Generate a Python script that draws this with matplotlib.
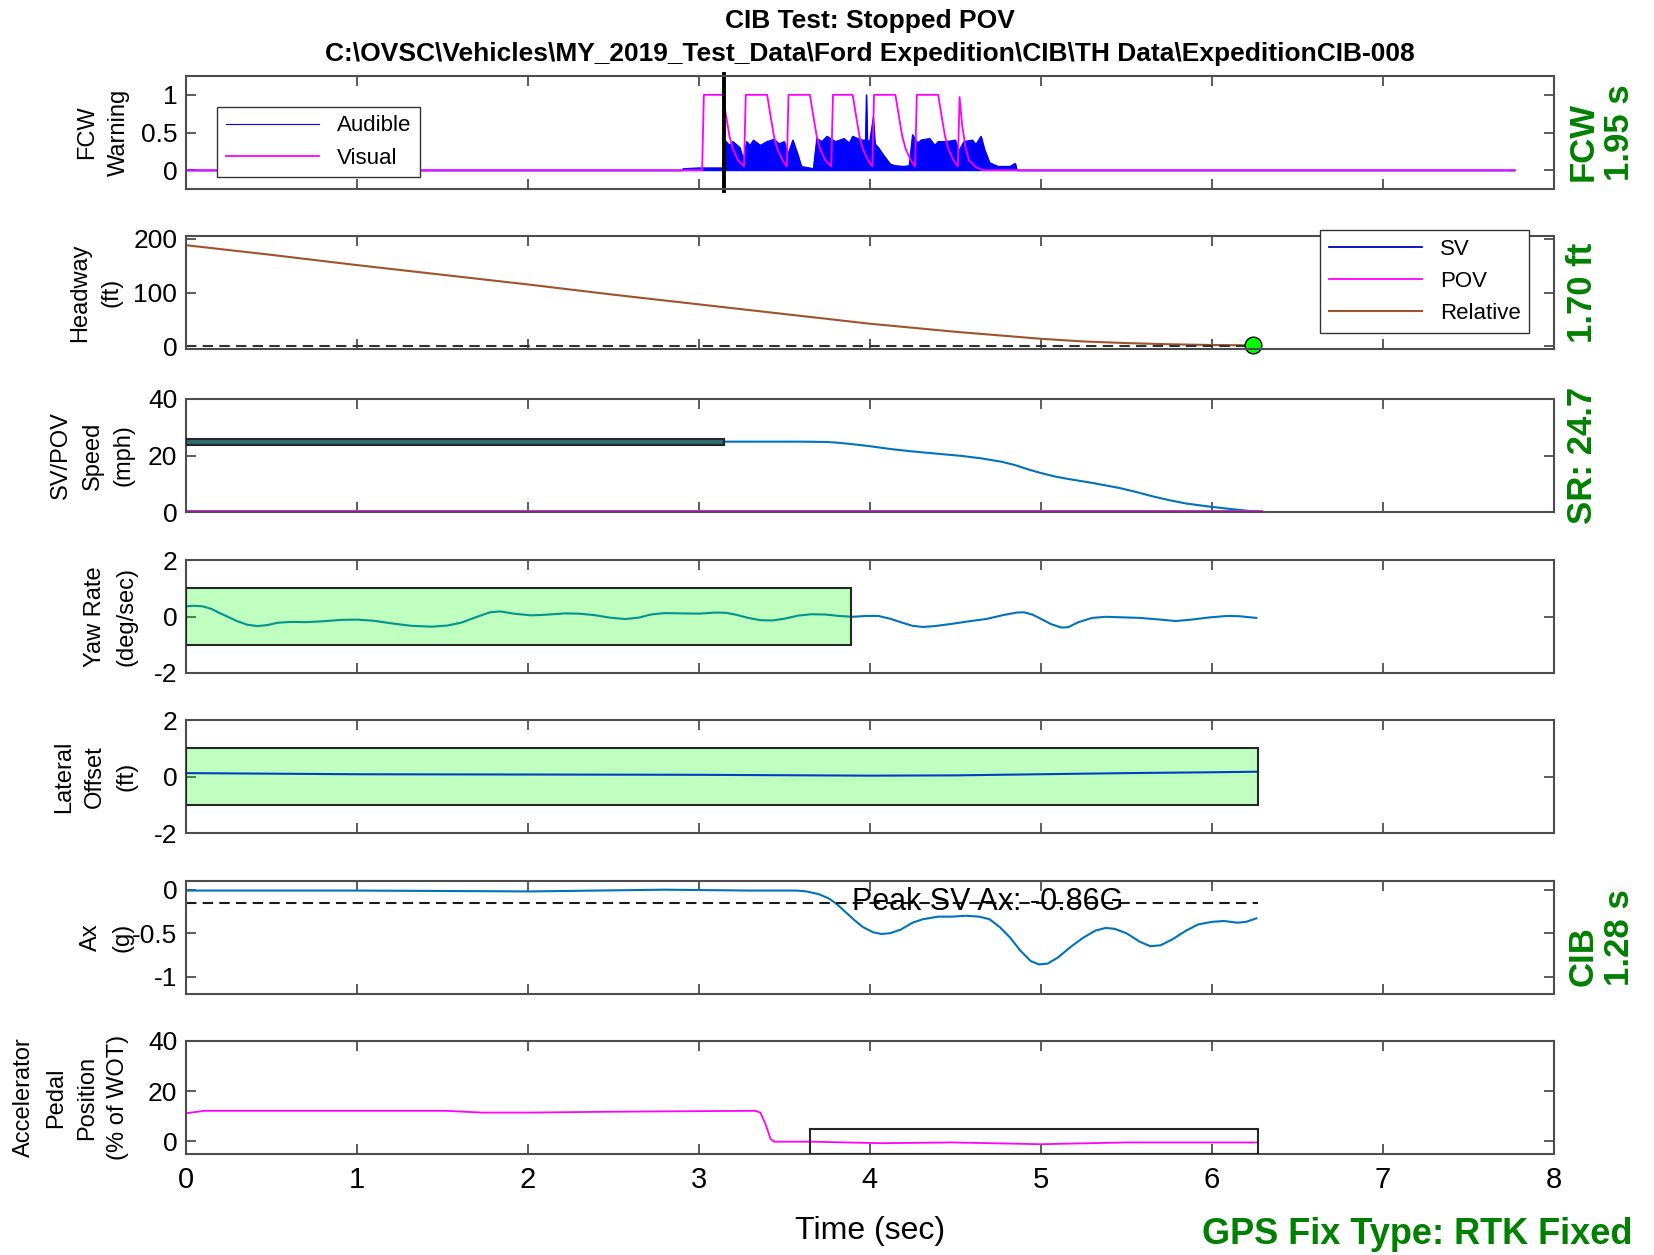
import matplotlib.pyplot as plt
import matplotlib.patches as patches

plt.rcParams['font.family'] = ['Liberation Sans', 'DejaVu Sans']
plt.rcParams['axes.unicode_minus'] = False

# ---- data ----
# FCW audible envelope (t, value)
audible = [(0, 0), (2.90, 0.0), (2.91, 0.02), (3.00, 0.03), (3.14, 0.03), (3.15, 0.40), (3.18, 0.33),
           (3.20, 0.38), (3.24, 0.30), (3.26, 0.14), (3.28, 0.38), (3.30, 0.33), (3.32, 0.40),
           (3.36, 0.33), (3.40, 0.38), (3.44, 0.41), (3.47, 0.35), (3.50, 0.38), (3.52, 0.20),
           (3.55, 0.40), (3.58, 0.20), (3.60, 0.05), (3.67, 0.02), (3.69, 0.42), (3.72, 0.38),
           (3.75, 0.45), (3.80, 0.38), (3.85, 0.42), (3.88, 0.36), (3.90, 0.45), (3.95, 0.40),
           (3.975, 0.40), (3.98, 1.00), (3.985, 0.40), (4.00, 0.38), (4.02, 0.70), (4.03, 0.35),
           (4.05, 0.30), (4.08, 0.20), (4.12, 0.08), (4.15, 0.06), (4.20, 0.05), (4.23, 0.06),
           (4.25, 0.47), (4.28, 0.36), (4.30, 0.40), (4.35, 0.42), (4.38, 0.33), (4.40, 0.38),
           (4.45, 0.38), (4.50, 0.40), (4.52, 0.25), (4.55, 0.38), (4.60, 0.40), (4.62, 0.34),
           (4.65, 0.45), (4.67, 0.28), (4.70, 0.10), (4.75, 0.05), (4.82, 0.05), (4.85, 0.09),
           (4.86, 0.0), (7.77, 0.0)]
# FCW visual (t, value)
visual = [(0, 0), (3.02, 0), (3.03, 1), (3.14, 1), (3.16, 0.72), (3.18, 0.45), (3.20, 0.28),
          (3.23, 0.13), (3.265, 0.05), (3.275, 1), (3.40, 1), (3.42, 0.72), (3.44, 0.45),
          (3.46, 0.28), (3.49, 0.13), (3.515, 0.05), (3.525, 1), (3.65, 1), (3.67, 0.72),
          (3.69, 0.45), (3.71, 0.28), (3.74, 0.13), (3.775, 0.05), (3.785, 1), (3.90, 1),
          (3.92, 0.72), (3.94, 0.45), (3.96, 0.28), (3.99, 0.13), (4.015, 0.05), (4.025, 1),
          (4.15, 1), (4.17, 0.72), (4.19, 0.45), (4.21, 0.28), (4.24, 0.13), (4.265, 0.05),
          (4.275, 1), (4.40, 1), (4.42, 0.72), (4.44, 0.45), (4.46, 0.28), (4.49, 0.13),
          (4.515, 0.05), (4.525, 0.97), (4.54, 0.6), (4.56, 0.3), (4.58, 0.13), (4.62, 0.04),
          (4.66, 0.0), (7.77, 0.0)]
fcw_time = 3.15

headway = [(0, 188), (0.5, 170), (1, 151), (1.5, 133), (2, 115), (2.5, 96), (3, 78), (3.5, 60),
           (4, 42), (4.5, 27), (5, 14), (5.25, 9), (5.5, 6), (5.75, 3.8), (6, 2.4), (6.24, 1.7)]
impact = (6.24, 1.7)

sv_speed = [(0, 24.9), (3.6, 24.9), (3.74, 24.8), (3.8, 24.6), (3.9, 24.0), (4.0, 23.3),
            (4.12, 22.3), (4.24, 21.5), (4.4, 20.6), (4.53, 19.9), (4.65, 19.0), (4.77, 17.8),
            (4.85, 16.6), (4.93, 15.0), (5.0, 13.8), (5.08, 12.6), (5.15, 11.8), (5.3, 10.3),
            (5.46, 8.5), (5.55, 7.2), (5.65, 5.6), (5.75, 4.2), (5.85, 3.0), (6.0, 1.8),
            (6.15, 0.8), (6.28, 0)]
pov_speed = [(0, 0), (6.28, 0)]

yaw = [(0, 0.36), (0.05, 0.38), (0.1, 0.36), (0.15, 0.27), (0.2, 0.12), (0.25, -0.02),
       (0.3, -0.16), (0.36, -0.29), (0.42, -0.34), (0.48, -0.3), (0.54, -0.22), (0.62, -0.19),
       (0.70, -0.2), (0.8, -0.17), (0.91, -0.12), (1.0, -0.11), (1.1, -0.15), (1.2, -0.24),
       (1.32, -0.33), (1.44, -0.36), (1.53, -0.32), (1.61, -0.22), (1.7, -0.02), (1.78, 0.15),
       (1.84, 0.18), (1.92, 0.1), (2.02, 0.04), (2.1, 0.06), (2.22, 0.11), (2.3, 0.1),
       (2.39, 0.05), (2.48, -0.04), (2.57, -0.09), (2.65, -0.04), (2.72, 0.07), (2.80, 0.12),
       (2.9, 0.11), (3.0, 0.1), (3.1, 0.14), (3.16, 0.13), (3.22, 0.06), (3.29, -0.05),
       (3.36, -0.13), (3.43, -0.14), (3.5, -0.08), (3.58, 0.03), (3.66, 0.08), (3.74, 0.07),
       (3.82, 0.02), (3.90, -0.01), (3.98, 0.02), (4.05, 0.02), (4.12, -0.08), (4.19, -0.22),
       (4.25, -0.33), (4.31, -0.37), (4.38, -0.34), (4.48, -0.26), (4.58, -0.17), (4.68, -0.09),
       (4.78, 0.05), (4.86, 0.14), (4.9, 0.15), (4.95, 0.07), (5.0, -0.08), (5.06, -0.27),
       (5.12, -0.39), (5.16, -0.38), (5.22, -0.2), (5.30, -0.05), (5.38, -0.01), (5.48, -0.03),
       (5.58, -0.05), (5.68, -0.1), (5.79, -0.16), (5.88, -0.11), (5.99, -0.03), (6.09, 0.02),
       (6.16, 0.01), (6.26, -0.05)]

lateral = [(0, 0.12), (0.5, 0.1), (1, 0.08), (2, 0.07), (3, 0.06), (4, 0.03), (4.5, 0.04),
           (5, 0.08), (5.5, 0.12), (6, 0.15), (6.27, 0.17)]

ax_g = [(0, -0.01), (1, -0.01), (2.02, -0.02), (2.4, -0.01), (2.8, 0.0), (3.3, -0.01),
        (3.57, -0.01), (3.63, -0.02), (3.70, -0.05), (3.76, -0.1), (3.81, -0.17), (3.86, -0.26),
        (3.91, -0.35), (3.96, -0.43), (4.02, -0.49), (4.07, -0.51), (4.12, -0.5), (4.18, -0.46),
        (4.25, -0.38), (4.31, -0.34), (4.4, -0.31), (4.48, -0.31), (4.56, -0.3), (4.64, -0.31),
        (4.70, -0.34), (4.76, -0.43), (4.82, -0.55), (4.88, -0.7), (4.94, -0.82), (4.99, -0.86),
        (5.04, -0.85), (5.1, -0.78), (5.18, -0.65), (5.25, -0.55), (5.32, -0.47), (5.38, -0.44),
        (5.43, -0.45), (5.5, -0.5), (5.58, -0.6), (5.64, -0.65), (5.7, -0.64), (5.77, -0.57),
        (5.85, -0.47), (5.92, -0.4), (6.0, -0.37), (6.07, -0.36), (6.15, -0.38), (6.2, -0.37),
        (6.26, -0.33)]
peak_ax_line = -0.15

pedal = [(0, 11.2), (0.11, 12.2), (1.52, 12.2), (1.73, 11.5), (2.02, 11.5), (2.43, 11.8),
         (2.84, 12.0), (3.33, 12.2), (3.36, 11.5), (3.39, 7.0), (3.42, 1.0), (3.44, -0.1),
         (3.66, -0.1), (4.07, -0.7), (4.48, -0.4), (5.0, -1.1), (5.5, -0.4), (6.26, -0.4)]


def xy(pairs):
    return [p[0] for p in pairs], [p[1] for p in pairs]


fig = plt.figure(figsize=(16.54, 12.55), dpi=100)

L, W, H = 0.1122, 0.8273, 113 / 1255
tops = [76, 236, 399, 560, 720, 881, 1041]
axs = [fig.add_axes([L, 1 - (t + 113) / 1255, W, H]) for t in tops]

MBLUE = '#0072BD'
MAG = '#ff00ff'
GREEN = '#008000'


def style(ax, ylim, yticks, ylabels, label, lx):
    ax.set_xlim(0, 8)
    ax.set_ylim(*ylim)
    ax.set_xticks(range(9))
    ax.set_yticks(yticks)
    ax.set_yticklabels(ylabels)
    ax.tick_params(direction='in', top=True, right=True, length=7.5, width=1.2,
                   color='0.25', labelsize=19, pad=6)
    ax.tick_params(axis='x', labelbottom=False)
    for s in ax.spines.values():
        s.set_color('0.3')
        s.set_linewidth(1.5)
    ax.set_ylabel(label, fontsize=17, linespacing=1.55)
    ax.yaxis.set_label_coords(lx, 0.5)


def side_text(ax, s):
    ax.text(1.009, 0.5, s, transform=ax.transAxes, rotation=90, ha='left', va='center',
            color=GREEN, fontsize=25, fontweight='bold', linespacing=1.15)


# 1 FCW warning
ax = axs[0]
t, v = xy(audible)
ax.fill_between(t, 0, v, color='b', lw=0.8)
ax.plot(t, v, color='b', lw=0.8, label='Audible')
t, v = xy(visual)
ax.plot(t, v, color=MAG, lw=1.3, label='Visual')
ax.axvline(fcw_time, color='k', lw=2.8, ymin=-0.02, ymax=1.02, clip_on=False)
style(ax, (-0.25, 1.25), [0, 0.5, 1], ['0', '0.5', '1'], 'FCW\nWarning', -0.041)
ax.legend(loc='upper left', bbox_to_anchor=(0.023, 0.73), borderaxespad=0, fontsize=16,
          handlelength=4.2, fancybox=False, edgecolor='0.2', framealpha=1)
side_text(ax, 'FCW\n1.95 s')

# 2 headway
ax = axs[1]
ax.plot([], [], color='#0000cc', lw=1.3, label='SV')
ax.plot([], [], color=MAG, lw=1.3, label='POV')
t, v = xy(headway)
ax.plot(t, v, color='#a0522d', lw=1.5, label='Relative')
ax.plot([0, impact[0]], [0, 0], '--', color='0.2', lw=1.5, dashes=(5, 3))
ax.plot(*impact, 'o', ms=12, mfc='#00ff00', mec='k', mew=1, clip_on=False)
style(ax, (-5, 205), [0, 100, 200], ['0', '100', '200'], 'Headway\n(ft)', -0.046)
leg = ax.legend(loc='upper right', bbox_to_anchor=(0.982, 1.053), borderaxespad=0, fontsize=16,
                handlelength=4.2, fancybox=False, edgecolor='0.2', framealpha=1)
leg.set_zorder(10)
side_text(ax, '1.70 ft')

# 3 speed
ax = axs[2]
t, v = xy(sv_speed)
ax.plot(t, v, color=MBLUE, lw=1.5)
t, v = xy(pov_speed)
ax.plot(t, v, color=MAG, lw=3.5)
ax.add_patch(patches.Rectangle((0, 23.7), fcw_time, 2.2, facecolor='#2f6d70',
                               edgecolor='0.15', lw=1.5, zorder=3))
style(ax, (0, 40), [0, 20, 40], ['0', '20', '40'], 'SV/POV\nSpeed\n(mph)', -0.037)
side_text(ax, 'SR: 24.7')

# 4 yaw rate
ax = axs[3]
t, v = xy(yaw)
ax.plot(t, v, color=MBLUE, lw=1.5)
ax.add_patch(patches.Rectangle((0, -1), 3.89, 2, facecolor=(0, 1, 0, 0.25),
                               edgecolor='0.15', lw=1.5, zorder=3))
style(ax, (-2, 2), [-2, 0, 2], ['-2', '0', '2'], 'Yaw Rate\n(deg/sec)', -0.035)

# 5 lateral offset
ax = axs[4]
t, v = xy(lateral)
ax.plot(t, v, color='b', lw=1.5)
ax.add_patch(patches.Rectangle((0, -1), 6.27, 2, facecolor=(0, 1, 0, 0.25),
                               edgecolor='0.15', lw=1.5, zorder=3))
style(ax, (-2, 2), [-2, 0, 2], ['-2', '0', '2'], 'Lateral\nOffset\n(ft)', -0.035)

# 6 Ax
ax = axs[5]
t, v = xy(ax_g)
ax.plot(t, v, color=MBLUE, lw=1.5)
ax.plot([0, 6.27], [peak_ax_line, peak_ax_line], '--', color='0.1', lw=1.5, dashes=(5, 3))
ax.text(4.69, peak_ax_line + 0.01, 'Peak SV Ax: -0.86G', ha='center', va='center', fontsize=22)
style(ax, (-1.2, 0.1), [-1, -0.5, 0], ['-1', '-0.5', '0'], 'Ax\n(g)', -0.038)
side_text(ax, 'CIB\n1.28 s')

# 7 pedal
ax = axs[6]
t, v = xy(pedal)
ax.plot(t, v, color=MAG, lw=1.3)
ax.add_patch(patches.Rectangle((3.65, -5), 6.27 - 3.65, 10, facecolor='none',
                               edgecolor='0.15', lw=1.5, zorder=3))
style(ax, (-5, 40), [0, 20, 40], ['0', '20', '40'],
      'Accelerator\nPedal\nPosition\n(% of WOT)', -0.041)
ax.tick_params(axis='x', labelbottom=True, labelsize=21, pad=9)
ax.set_xlabel('Time (sec)', fontsize=23)
ax.xaxis.set_label_coords(0.5, -0.55)

xc = L + W / 2
fig.text(xc, 1 - 21 / 1255, 'CIB Test: Stopped POV', ha='center', va='center',
         fontsize=19, fontweight='bold')
fig.text(xc, 1 - 54 / 1255,
         'C:\\OVSC\\Vehicles\\MY_2019_Test_Data\\Ford Expedition\\CIB\\TH Data\\ExpeditionCIB-008',
         ha='center', va='center', fontsize=19, fontweight='bold')
fig.text(0.987, 1 - 1234 / 1255, 'GPS Fix Type: RTK Fixed', ha='right', va='center',
         color=GREEN, fontsize=26, fontweight='bold')

fig.savefig('out.png', dpi=100)
